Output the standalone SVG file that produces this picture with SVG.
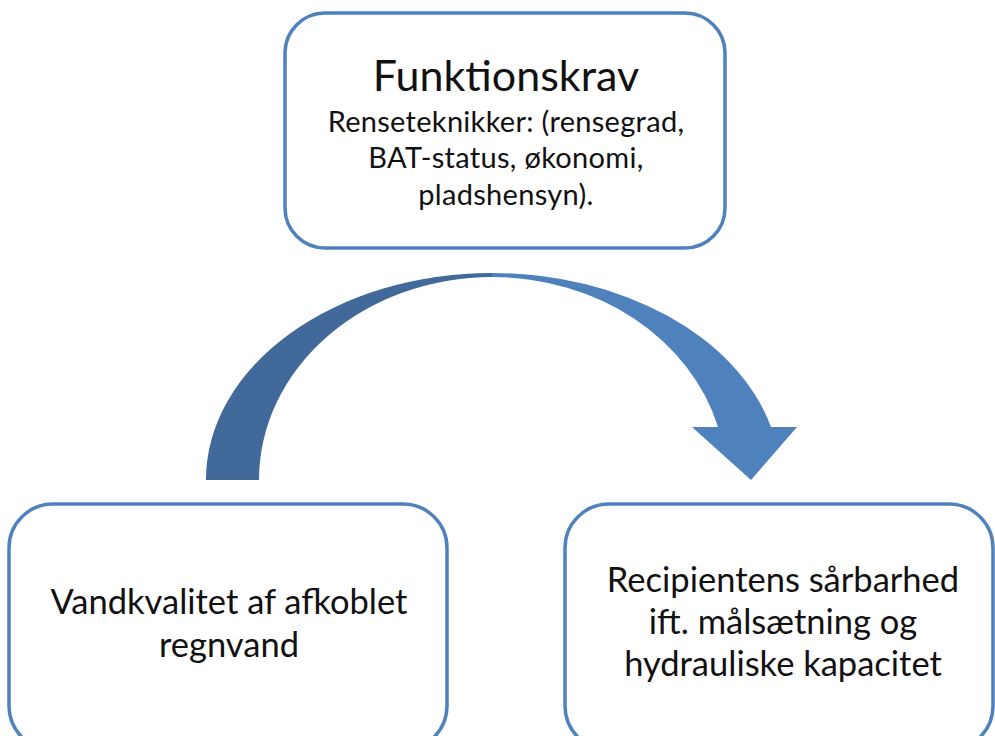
<svg xmlns="http://www.w3.org/2000/svg" width="995" height="736" viewBox="0 0 995 736">
<style>
.box{fill:#fff;stroke:#4f81bd;stroke-width:3.5}
text{font-family:Lato,"Open Sans","Liberation Sans",sans-serif;fill:#111;text-anchor:middle}
.t{font-size:43px}
.s{font-size:29px;letter-spacing:0.3px}
.b{font-size:34.5px}
</style>
<rect width="995" height="736" fill="#fff"/>
<g id="connectors">
<path d="M206,480 A286,207 0 0 1 492,273 L492,277 A233,203 0 0 0 259,480 Z" fill="#41699a"/>
<path d="M492,273 A289,207 0 0 1 771,427 L718,427 A234,203 0 0 0 492,277 Z" fill="#4f81bd"/>
<polygon points="692,427 797,427 751,480" fill="#4f81bd"/>
</g>
<g id="top">
<rect class="box" x="285" y="13" width="440" height="235" rx="40"/>
<text class="t" x="506" y="91">Funktionskrav</text>
<text class="s" x="506" y="132">Renseteknikker: (rensegrad,</text>
<text class="s" x="506" y="168">BAT-status, økonomi,</text>
<text class="s" x="506" y="205">pladshensyn).</text>
</g>
<g id="left">
<rect class="box" x="9" y="504" width="438" height="246" rx="44"/>
<text class="b" x="229" y="614">Vandkvalitet af afkoblet</text>
<text class="b" x="229" y="657">regnvand</text>
</g>
<g id="right">
<rect class="box" x="565" y="504" width="428" height="246" rx="44"/>
<text class="b" x="783" y="592">Recipientens sårbarhed</text>
<text class="b" x="783" y="634">ift. målsætning og</text>
<text class="b" x="783" y="676">hydrauliske kapacitet</text>
</g>
</svg>
